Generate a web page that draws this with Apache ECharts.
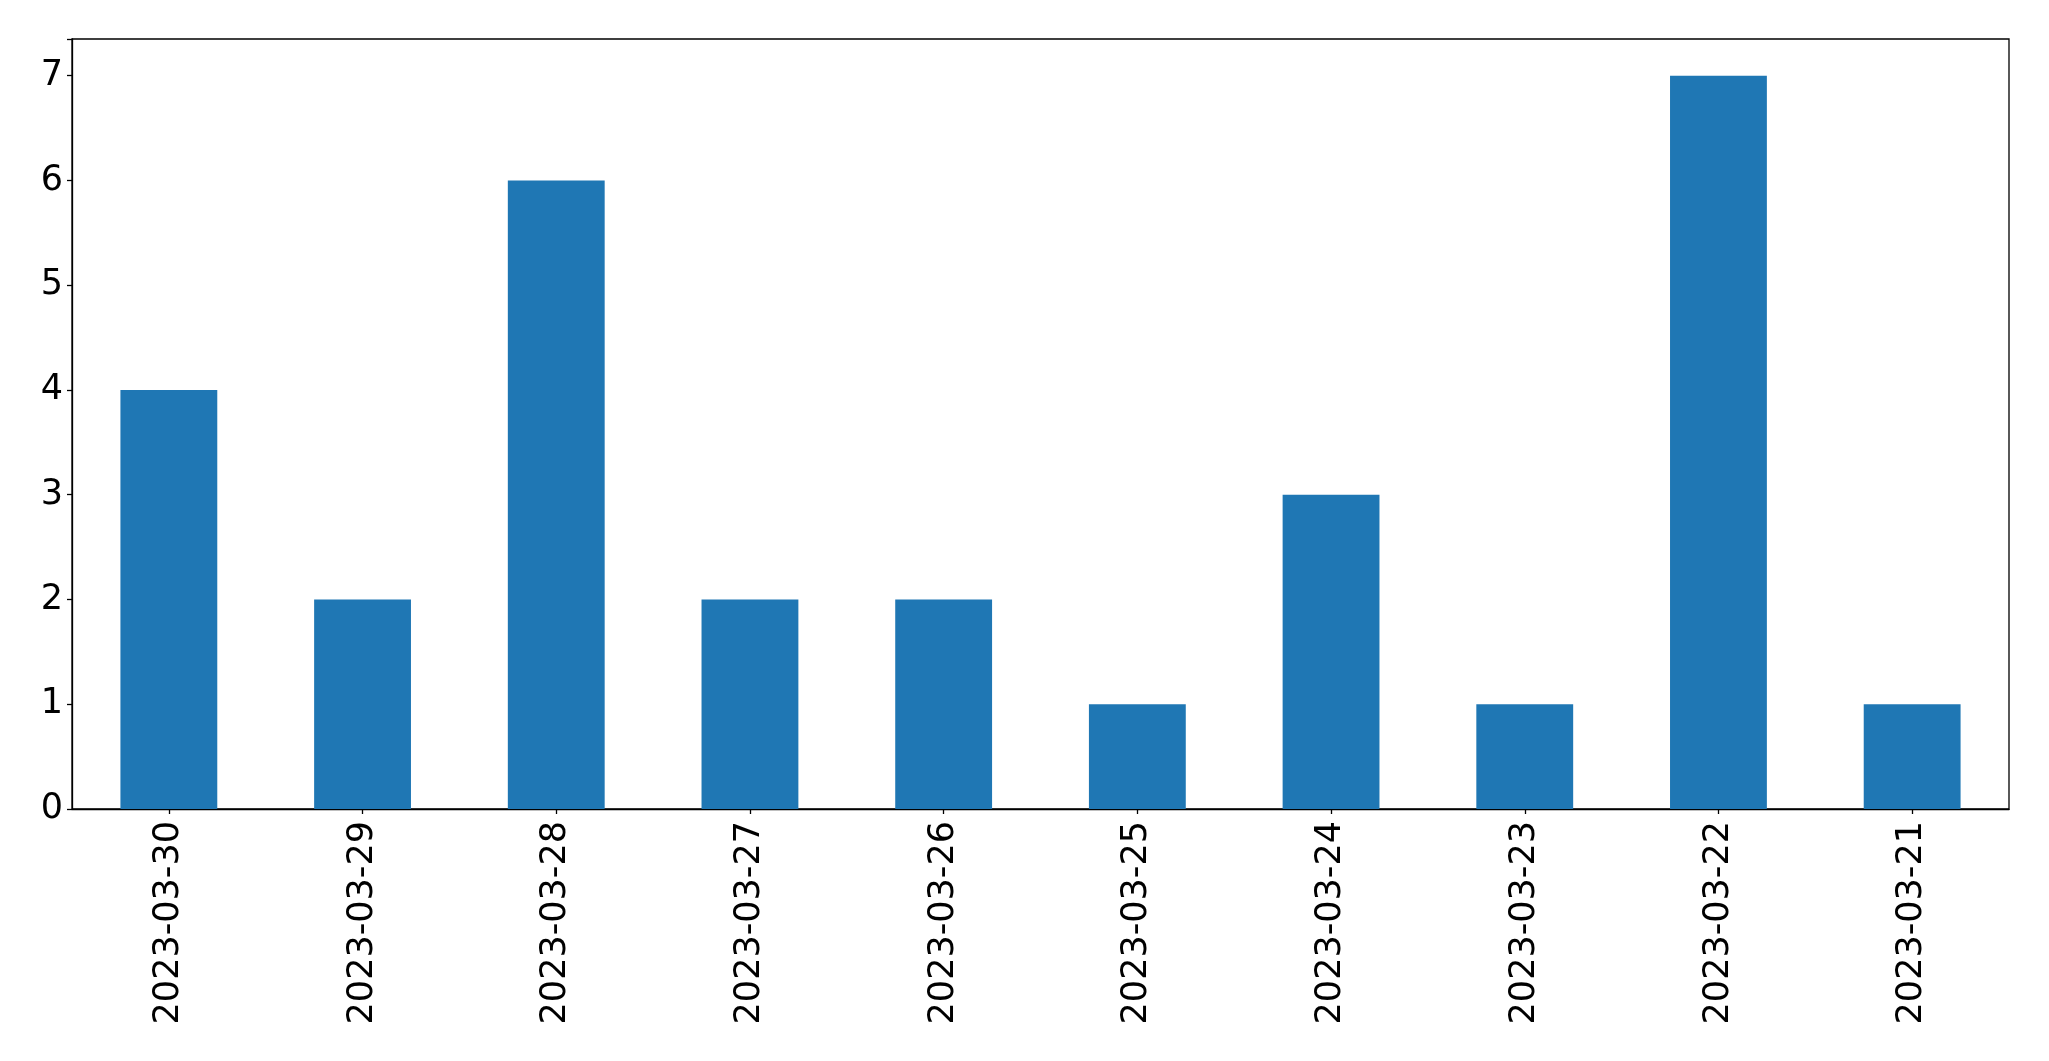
<!DOCTYPE html>
<html>
<head>
<meta charset="utf-8">
<script src="https://cdn.jsdelivr.net/npm/echarts@6/dist/echarts.min.js"></script>
<style>
html,body{margin:0;padding:0;background:#fff;}
#chart{width:2049px;height:1061px;}
</style>
</head>
<body>
<div id="chart"></div>
<script>
const categories = ['2023-03-30','2023-03-29','2023-03-28','2023-03-27','2023-03-26','2023-03-25','2023-03-24','2023-03-23','2023-03-22','2023-03-21'];
const values = [4, 2, 6, 2, 2, 1, 3, 1, 7, 1];
const yTicks = [0, 1, 2, 3, 4, 5, 6, 7];

const chart = echarts.init(document.getElementById('chart'));
const font = 'DejaVu Sans';
chart.setOption({
  animation: false,
  backgroundColor: '#fff',
  grid: {
    left: 72, right: 40, top: 39, bottom: 252,
    show: true, borderColor: '#000', borderWidth: 1.3, backgroundColor: 'transparent',
    containLabel: false
  },
  xAxis: {
    type: 'category',
    data: categories,
    boundaryGap: true,
    axisLine: { show: true, lineStyle: { color: '#000', width: 1.3 } },
    axisTick: { show: true, alignWithLabel: true, length: 5, lineStyle: { color: '#000', width: 1.3 } },
    axisLabel: { rotate: 90, fontFamily: font, fontSize: 35, color: '#000', margin: 12, interval: 0 },
    splitLine: { show: false }
  },
  yAxis: {
    type: 'value',
    min: 0, max: 7.35, interval: 1,
    axisLine: { show: true, lineStyle: { color: '#000', width: 1.3 } },
    axisTick: { show: true, length: 5, lineStyle: { color: '#000', width: 1.3 } },
    axisLabel: {
      fontFamily: font, fontSize: 35, color: '#000', margin: 9,
      formatter: function (v) { return yTicks.indexOf(v) >= 0 ? String(v) : ''; }
    },
    splitLine: { show: false }
  },
  series: [{
    type: 'bar',
    data: values,
    barWidth: '50%',
    itemStyle: { color: '#1f77b4' }
  }]
});
</script>
</body>
</html>
